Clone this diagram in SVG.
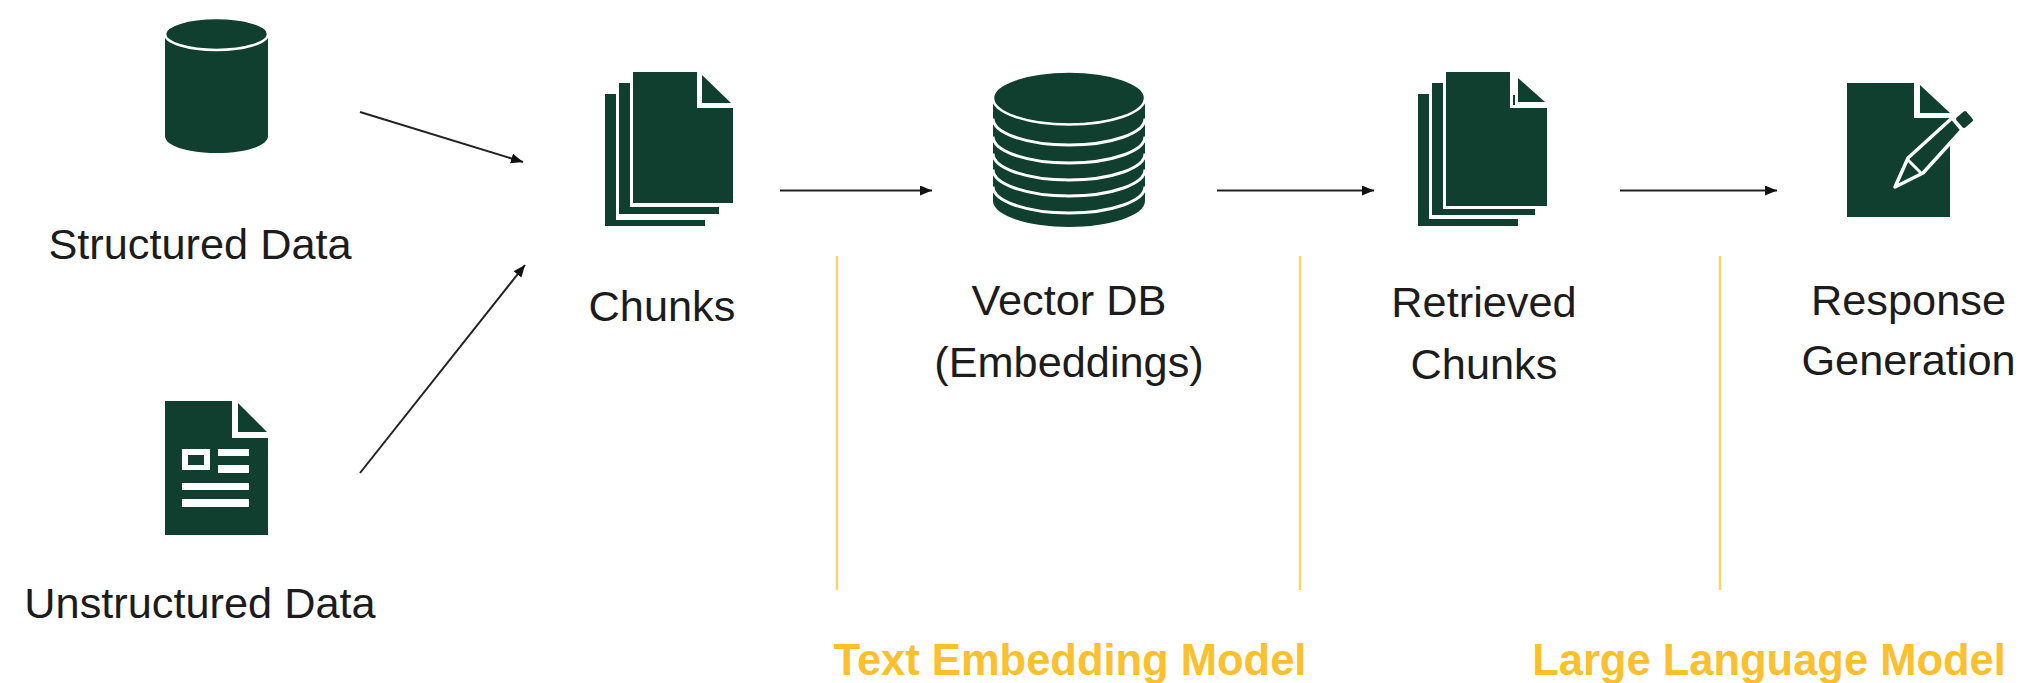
<svg xmlns="http://www.w3.org/2000/svg" width="2024" height="683" viewBox="0 0 2024 683">
<style>
.g{fill:#103f30}
.w{fill:#fff}
.wl{fill:none;stroke:#fff;stroke-width:3}
.t{font-family:"Liberation Sans",Arial,sans-serif;font-size:43.300px;fill:#1c1c1c;text-anchor:middle}
.y{font-family:"Liberation Sans",Arial,sans-serif;font-size:43.500px;font-weight:bold;fill:#fcc02e;text-anchor:middle}
.c{stroke:#222;stroke-width:2;fill:none;marker-end:url(#a)}
.v{stroke:#fdd36a;stroke-width:2.500;fill:none}
</style>
<defs><marker id="a" markerUnits="userSpaceOnUse" markerWidth="14" markerHeight="12" refX="12" refY="5" orient="auto"><path d="M0 0L12 5L0 10Z" fill="#111"/></marker></defs>
<rect width="2024" height="683" fill="#fff"/>
<g id="structured">
<path class="g" d="M165 34V136C165 146 188 153 216.500 153S268 146 268 136V34Z"/>
<ellipse class="g" cx="216.500" cy="34" rx="51.500" ry="16" stroke="#fff" stroke-width="2.500"/>
<text class="t" x="200" y="259">Structured Data</text>
</g>
<g id="unstructured">
<path class="g" d="M165 401H232V438H268V535H165Z"/>
<path class="g" d="M238 403L267 432H238Z"/>
<path class="w" fill-rule="evenodd" d="M182 449H210V470H182ZM188 455V465H204V455ZM218 449H249V456H218ZM218 465H249V473H218ZM182 483H249V490H182ZM182 499H249V507H182Z"/>
<text class="t" x="200" y="618">Unstructured Data</text>
</g>
<g id="chunks">
<path class="g" d="M605 94H616V220H705V226H605Z"/>
<path class="g" d="M619 83H630V207H719V214H619Z"/>
<path class="g" d="M633 72H697V108H733V203H633Z"/>
<path class="g" d="M702 75L731 103H702Z"/>
<text class="t" x="662" y="321">Chunks</text>
</g>
<g id="vector-db">
<path class="g" d="M993 98V201C993 216 1030 227 1069 227S1145 216 1145 201V98Z"/>
<path class="wl" d="M993 118.500A76 26.500 0 0 0 1145 118.500"/>
<path class="wl" d="M993 136.500A76 26.500 0 0 0 1145 136.500"/>
<path class="wl" d="M993 153.500A76 26.500 0 0 0 1145 153.500"/>
<path class="wl" d="M993 169.500A76 26.500 0 0 0 1145 169.500"/>
<path class="wl" d="M993 186.500A76 26.500 0 0 0 1145 186.500"/>
<ellipse class="g" cx="1069" cy="98" rx="76" ry="26.500" stroke="#fff" stroke-width="2.500"/>
<text class="t" x="1069" y="315">Vector DB</text>
<text class="t" x="1069" y="377">(Embeddings)</text>
</g>
<g id="retrieved">
<path class="g" d="M1418 94H1429V219H1518V226H1418Z"/>
<path class="g" d="M1432 83H1443V209H1535V215H1432Z"/>
<path class="g" d="M1446 72H1510V108H1547V206H1446Z"/>
<path class="g" d="M1518 78L1545 102H1518Z"/>
<rect class="g" x="1513" y="95" width="2" height="10"/>
<text class="t" x="1484" y="317">Retrieved</text>
<text class="t" x="1484" y="379">Chunks</text>
</g>
<g id="response">
<path class="g" d="M1847 83H1914V118H1950V217H1847Z"/>
<path class="g" d="M1920 85L1950 113H1920Z"/>
<path class="g" stroke="#fff" stroke-width="3.500" stroke-linejoin="round" d="M1895 187L1908 158L1952 118L1962 130L1923 173Z"/>
<path class="wl" d="M1908 160L1921 173"/>
<path class="g" stroke="#103f30" stroke-width="4" stroke-linejoin="round" d="M1958 119L1965 113L1971 120L1964 126Z"/>
<text class="t" x="1908.500" y="315">Response</text>
<text class="t" x="1908.500" y="375">Generation</text>
</g>
<g id="connectors">
<path class="c" d="M360 112L523 162"/>
<path class="c" d="M360 473L525 265"/>
<path class="c" d="M780 190.500H932"/>
<path class="c" d="M1217 190.500H1374"/>
<path class="c" d="M1620 190.500H1777"/>
<path class="v" d="M837 256V590"/>
<path class="v" d="M1300 256V590"/>
<path class="v" d="M1720 256V590"/>
</g>
<text class="y" x="1070" y="675">Text Embedding Model</text>
<text class="y" x="1769" y="675">Large Language Model</text>
</svg>
